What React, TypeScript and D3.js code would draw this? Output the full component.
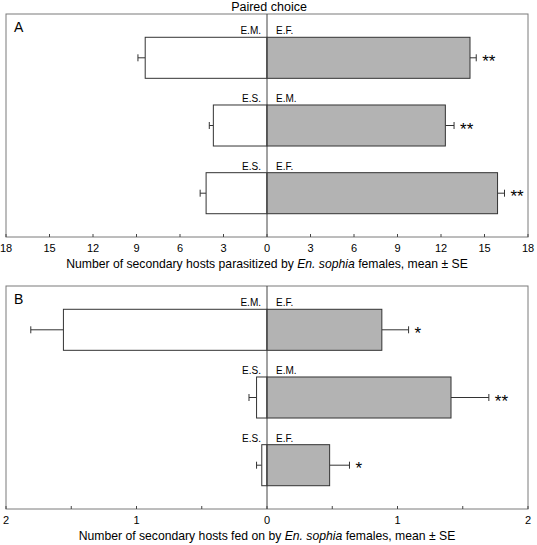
import React from "react";
import * as d3 from "d3";

const leftLabels = ["E.M.", "E.S.", "E.S."];
const rightLabels = ["E.F.", "E.M.", "E.F."];
const pairs = ["pair1", "pair2", "pair3"];

const leftMeansA = [8.4, 3.7, 4.2];
const leftSEA = [0.5, 0.28, 0.41];
const rightMeansA = [14.0, 12.3, 15.9];
const rightSEA = [0.43, 0.6, 0.48];
const sigA = ["**", "**", "**"];
const ticksA = [-18, -15, -12, -9, -6, -3, 0, 3, 6, 9, 12, 15, 18];

const leftMeansB = [1.56, 0.08, 0.04];
const leftSEB = [0.25, 0.058, 0.04];
const rightMeansB = [0.88, 1.41, 0.48];
const rightSEB = [0.205, 0.29, 0.152];
const sigB = ["*", "**", "*"];
const majorTicksB = [-2, -1, 0, 1, 2];
const minorTicksB = [-1.5, -0.5, 0.5, 1.5];

const FONT = "Liberation Sans, Arial, sans-serif";

type PanelProps = {
  letter: string;
  top: number;
  max: number;
  leftMeans: number[];
  leftSE: number[];
  rightMeans: number[];
  rightSE: number[];
  sig: string[];
  majorTicks: number[];
  minorTicks: number[];
  titleMiddle: string;
};

function Panel(p: PanelProps) {
  const left = 6, right = 528;
  const height = 223;
  const bottom = p.top + height;
  const x = d3.scaleLinear().domain([-p.max, p.max]).range([left, right]);
  const y = d3
    .scaleBand<string>()
    .domain(pairs)
    .range([p.top, bottom])
    .paddingInner(0.394)
    .paddingOuter(0.344);
  const bw = y.bandwidth();
  const x0 = x(0);
  const fmt = (v: number) => String(Math.abs(v));
  return (
    <g>
      <rect x={left} y={p.top} width={right - left} height={height} fill="none" stroke="#7a7a7a" strokeWidth={1} />
      <text x={14} y={p.top + 18} fontSize={14} fontFamily={FONT}>{p.letter}</text>
      {pairs.map((k, i) => {
        const yt = y(k)!;
        const yc = yt + bw / 2;
        const xl = x(-p.leftMeans[i]);
        const xle = x(-p.leftMeans[i] - p.leftSE[i]);
        const xr = x(p.rightMeans[i]);
        const xre = x(p.rightMeans[i] + p.rightSE[i]);
        return (
          <g key={k}>
            <line x1={xle} x2={xl} y1={yc} y2={yc} stroke="#333" />
            <line x1={xle} x2={xle} y1={yc - 3.5} y2={yc + 3.5} stroke="#333" />
            <line x1={xr} x2={xre} y1={yc} y2={yc} stroke="#333" />
            <line x1={xre} x2={xre} y1={yc - 3.5} y2={yc + 3.5} stroke="#333" />
            <rect x={xl} y={yt} width={x0 - xl} height={bw} fill="#fff" stroke="#333" />
            <rect x={x0} y={yt} width={xr - x0} height={bw} fill="#b3b3b3" stroke="#333" />
            <text x={x0 - 6} y={yt - 3} textAnchor="end" fontSize={10} fontFamily={FONT}>{leftLabels[i]}</text>
            <text x={x0 + 9} y={yt - 3} textAnchor="start" fontSize={10} fontFamily={FONT}>{rightLabels[i]}</text>
            <text x={xre + 6} y={yc + 9} fontSize={17} fontFamily={FONT}>{p.sig[i]}</text>
          </g>
        );
      })}
      <line x1={x0} x2={x0} y1={p.top} y2={bottom} stroke="#444" />
      {p.majorTicks.map((t) => (
        <g key={"M" + t}>
          <line x1={x(t)} x2={x(t)} y1={bottom} y2={bottom - 3} stroke="#444" />
          <text x={x(t)} y={bottom + 15} textAnchor="middle" fontSize={11} fontFamily={FONT}>{fmt(t)}</text>
        </g>
      ))}
      {p.minorTicks.map((t) => (
        <line key={"m" + t} x1={x(t)} x2={x(t)} y1={bottom} y2={bottom - 3} stroke="#444" />
      ))}
      <text x={267} y={bottom + 31} textAnchor="middle" fontSize={12.2} fontFamily={FONT}>
        {"Number of secondary hosts " + p.titleMiddle + " by "}
        <tspan fontStyle="italic">En. sophia</tspan>
        {" females, mean ± SE"}
      </text>
    </g>
  );
}

export default function App() {
  return (
    <svg width={537} height={545} style={{ position: "absolute", left: 0, top: 0, background: "#fff" }}>
      <text x={269} y={11} textAnchor="middle" fontSize={12.5} fontFamily={FONT}>Paired choice</text>
      <Panel
        letter="A"
        top={14}
        max={18}
        leftMeans={leftMeansA}
        leftSE={leftSEA}
        rightMeans={rightMeansA}
        rightSE={rightSEA}
        sig={sigA}
        majorTicks={ticksA}
        minorTicks={[]}
        titleMiddle="parasitized"
      />
      <Panel
        letter="B"
        top={286}
        max={2}
        leftMeans={leftMeansB}
        leftSE={leftSEB}
        rightMeans={rightMeansB}
        rightSE={rightSEB}
        sig={sigB}
        majorTicks={majorTicksB}
        minorTicks={minorTicksB}
        titleMiddle="fed on"
      />
    </svg>
  );
}
